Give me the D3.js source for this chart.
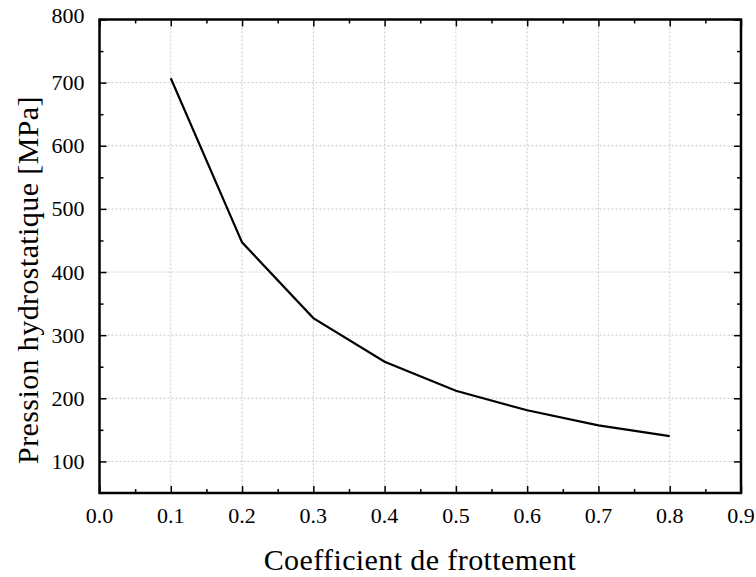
<!DOCTYPE html>
<html>
<head>
<meta charset="utf-8">
<script src="https://cdn.jsdelivr.net/npm/d3@7"></script>
<style>
body { margin: 0; background: #fff; }
text { font-family: "Liberation Serif", "Times New Roman", serif; fill: #000; }
</style>
</head>
<body>
<div id="chart"></div>
<script>
var frictionCoef = [0.1, 0.2, 0.3, 0.4, 0.5, 0.6, 0.7, 0.8];
var pressure = [707, 447, 327, 258, 212, 181, 157, 140];
var xTicks = [0.0, 0.1, 0.2, 0.3, 0.4, 0.5, 0.6, 0.7, 0.8, 0.9];
var yTicks = [100, 200, 300, 400, 500, 600, 700, 800];

var margin = {top: 19.5, right: 15, bottom: 84, left: 99.5};
var width = 756 - margin.left - margin.right,
	height = 577 - margin.top - margin.bottom;

var svg = d3.select('#chart').append('svg')
	.attr('width', 756)
	.attr('height', 577);

var g = svg.append('g')
	.attr('transform', 'translate(' + margin.left + ',' + margin.top + ')');

var x = d3.scaleLinear().domain([0, 0.9]).range([0, width]);
var y = d3.scaleLinear().domain([50, 800]).range([height, 0]);

var xMinor = d3.range(0.05, 0.9, 0.1);
var yMinor = d3.range(150, 800, 100);

// grid
g.selectAll('.gx').data(xTicks.slice(1, -1)).enter().append('line')
	.attr('x1', d => x(d)).attr('x2', d => x(d))
	.attr('y1', 0).attr('y2', height)
	.attr('stroke', '#c8c8c8').attr('stroke-width', 1)
	.attr('stroke-dasharray', '2,2');
g.selectAll('.gy').data(yTicks.slice(0, -1)).enter().append('line')
	.attr('y1', d => y(d)).attr('y2', d => y(d))
	.attr('x1', 0).attr('x2', width)
	.attr('stroke', '#c8c8c8').attr('stroke-width', 1)
	.attr('stroke-dasharray', '2,2');

// axes with inward ticks
function styleAxis(sel) {
	sel.select('.domain').remove();
	sel.selectAll('line').attr('stroke', '#000').attr('stroke-width', 1.5);
}

g.append('g').attr('transform', 'translate(0,' + height + ')')
	.call(d3.axisTop(x).tickValues(xTicks).tickSize(7).tickFormat(''))
	.call(styleAxis);
g.append('g').attr('transform', 'translate(0,' + height + ')')
	.call(d3.axisTop(x).tickValues(xMinor).tickSize(4).tickFormat(''))
	.call(styleAxis);
g.append('g')
	.call(d3.axisBottom(x).tickValues(xTicks).tickSize(7).tickFormat(''))
	.call(styleAxis);
g.append('g')
	.call(d3.axisBottom(x).tickValues(xMinor).tickSize(4).tickFormat(''))
	.call(styleAxis);
g.append('g')
	.call(d3.axisRight(y).tickValues(yTicks).tickSize(7).tickFormat(''))
	.call(styleAxis);
g.append('g')
	.call(d3.axisRight(y).tickValues(yMinor).tickSize(4).tickFormat(''))
	.call(styleAxis);
g.append('g').attr('transform', 'translate(' + width + ',0)')
	.call(d3.axisLeft(y).tickValues(yTicks).tickSize(7).tickFormat(''))
	.call(styleAxis);
g.append('g').attr('transform', 'translate(' + width + ',0)')
	.call(d3.axisLeft(y).tickValues(yMinor).tickSize(4).tickFormat(''))
	.call(styleAxis);

// tick labels
g.selectAll('.xl').data(xTicks).enter().append('text')
	.attr('x', d => x(d)).attr('y', height + 30)
	.attr('text-anchor', 'middle')
	.style('font-size', '22px')
	.text(d => d.toFixed(1));
g.selectAll('.yl').data(yTicks).enter().append('text')
	.attr('x', -15).attr('y', d => y(d) + 7.5 - (d === 800 ? 4 : 0))
	.attr('text-anchor', 'end')
	.style('font-size', '22px')
	.text(d => d);

// frame
g.append('rect')
	.attr('width', width).attr('height', height)
	.attr('fill', 'none').attr('stroke', '#000').attr('stroke-width', 2.5);

// data line
var line = d3.line()
	.x(function(d, i) { return x(frictionCoef[i]); })
	.y(function(d) { return y(d); });
g.append('path').datum(pressure)
	.attr('d', line)
	.attr('fill', 'none').attr('stroke', '#000').attr('stroke-width', 2.2);

// titles
svg.append('text')
	.attr('x', 420).attr('y', 570)
	.attr('text-anchor', 'middle')
	.style('font-size', '30px')
	.style('letter-spacing', '0.4px')
	.text('Coefficient de frottement');
svg.append('text')
	.attr('transform', 'translate(38,280) rotate(-90)')
	.attr('text-anchor', 'middle')
	.style('font-size', '30px')
	.style('letter-spacing', '0.4px')
	.text('Pression hydrostatique [MPa]');
</script>
</body>
</html>
